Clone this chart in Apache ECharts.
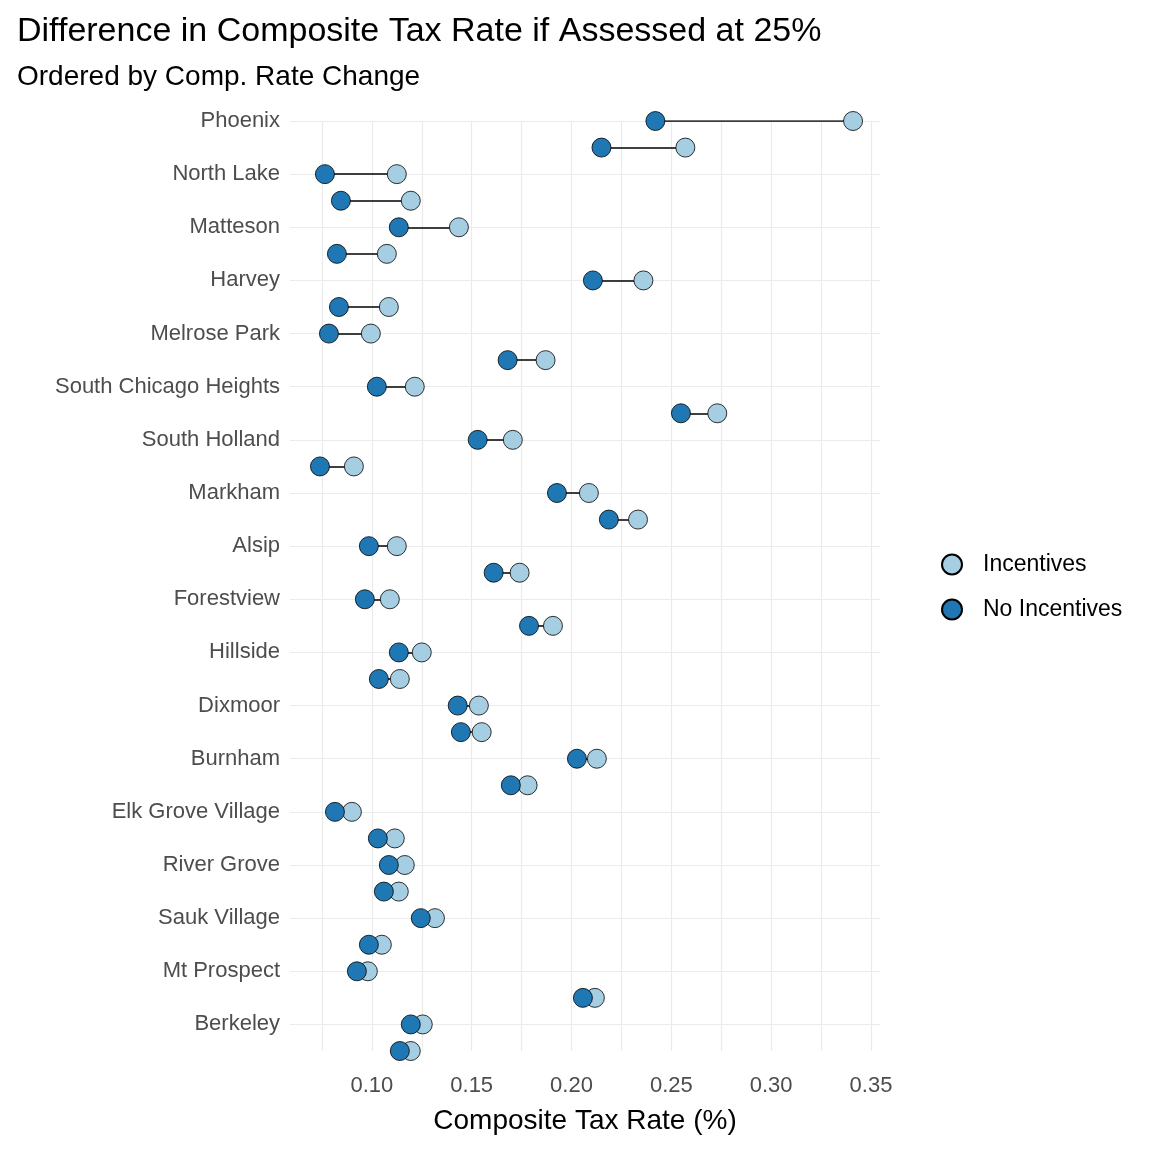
<!DOCTYPE html>
<html>
<head>
<meta charset="utf-8">
<script src="https://cdn.jsdelivr.net/npm/echarts@6/dist/echarts.min.js"></script>
<style>html,body{margin:0;padding:0;background:#fff}#chart{width:1152px;height:1152px}</style>
</head>
<body>
<div id="chart"></div>
<script>
// cities, top to bottom
var cities = ['Phoenix','Ford Heights','North Lake','Bedford Park','Matteson','McCook','Harvey','Franklin Park','Melrose Park','Chicago Heights','South Chicago Heights','Riverdale','South Holland','Hodgkins','Markham','Calumet City','Alsip','Calumet Park','Forestview','East Hazelcrest','Hillside','Bridgeview','Dixmoor','Bellwood','Burnham','Thornton','Elk Grove Village','Schiller Park','River Grove','Wheeling','Sauk Village','Streamwood','Mt Prospect','Dolton','Berkeley','Posen'];
var incentives = [0.341,0.257,0.1125,0.1195,0.1436,0.1075,0.236,0.1085,0.0995,0.187,0.1215,0.273,0.1706,0.091,0.2087,0.2333,0.1125,0.174,0.109,0.1907,0.125,0.114,0.1536,0.155,0.2127,0.178,0.09,0.1115,0.1165,0.1135,0.1316,0.105,0.098,0.2117,0.1255,0.1195];
var noIncentives = [0.242,0.215,0.0765,0.0845,0.1135,0.0825,0.2107,0.0835,0.0785,0.168,0.1025,0.2548,0.153,0.074,0.1927,0.2187,0.0985,0.161,0.0965,0.1787,0.1135,0.1035,0.143,0.1446,0.2027,0.1696,0.0815,0.103,0.1085,0.106,0.1245,0.0985,0.0925,0.2057,0.1195,0.114];
var labelTicks = [0.10,0.15,0.20,0.25,0.30,0.35];
var gridTicks = [0.075,0.10,0.125,0.15,0.175,0.20,0.225,0.25,0.275,0.30,0.325,0.35];

var chart = echarts.init(document.getElementById('chart'));
var font = 'Arial, Liberation Sans, sans-serif';

chart.setOption({
  animation: false,
  textStyle: {fontFamily: font},
  title: {
    text: 'Difference in Composite Tax Rate if Assessed at 25%',
    subtext: 'Ordered by Comp. Rate Change',
    left: 12, top: 10, itemGap: 14,
    textStyle: {fontSize: 34, fontWeight: 'normal', color: '#000', fontFamily: font},
    subtextStyle: {fontSize: 28, color: '#000', fontFamily: font}
  },
  legend: {
    orient: 'vertical', left: 936, top: 548, itemGap: 22,
    icon: 'circle', itemWidth: 20, itemHeight: 20,
    textStyle: {fontSize: 23, color: '#000', padding: [0,0,0,16]},
    data: ['Incentives','No Incentives']
  },
  grid: {left: 290, right: 272, top: 121, bottom: 101},
  xAxis: {
    type: 'value', min: 0.059, max: 0.3545,
    name: 'Composite Tax Rate (%)', nameLocation: 'middle', nameGap: 56,
    nameTextStyle: {fontSize: 28, color: '#000'},
    axisLine: {show: false}, axisTick: {show: false, customValues: gridTicks},
    axisLabel: {customValues: labelTicks, fontSize: 22, color: '#4d4d4d', margin: 24, formatter: function (v) { return v.toFixed(2); }},
    splitLine: {show: true, lineStyle: {color: '#ebebeb', width: 1.2}}
  },
  yAxis: {
    type: 'category', data: cities, inverse: true, boundaryGap: false,
    axisLine: {show: false}, axisTick: {show: false},
    axisLabel: {fontSize: 22, color: '#4d4d4d', margin: 10},
    splitLine: {show: true, lineStyle: {color: '#ebebeb', width: 1.2}}
  },
  series: [
    {
      type: 'lines', coordinateSystem: 'cartesian2d', silent: true,
      lineStyle: {color: '#000', width: 1.5, opacity: 1},
      data: cities.map(function (c, i) { return {coords: [[incentives[i], c], [noIncentives[i], c]]}; }),
      z: 1
    },
    {
      name: 'Incentives', type: 'scatter', symbolSize: 19, z: 2,
      itemStyle: {color: '#a6cee3', borderColor: '#000', borderWidth: 0.8, opacity: 1},
      data: cities.map(function (c, i) { return [incentives[i], c]; })
    },
    {
      name: 'No Incentives', type: 'scatter', symbolSize: 19, z: 3,
      itemStyle: {color: '#1f78b4', borderColor: '#000', borderWidth: 0.8, opacity: 1},
      data: cities.map(function (c, i) { return [noIncentives[i], c]; })
    }
  ]
});
</script>
</body>
</html>
